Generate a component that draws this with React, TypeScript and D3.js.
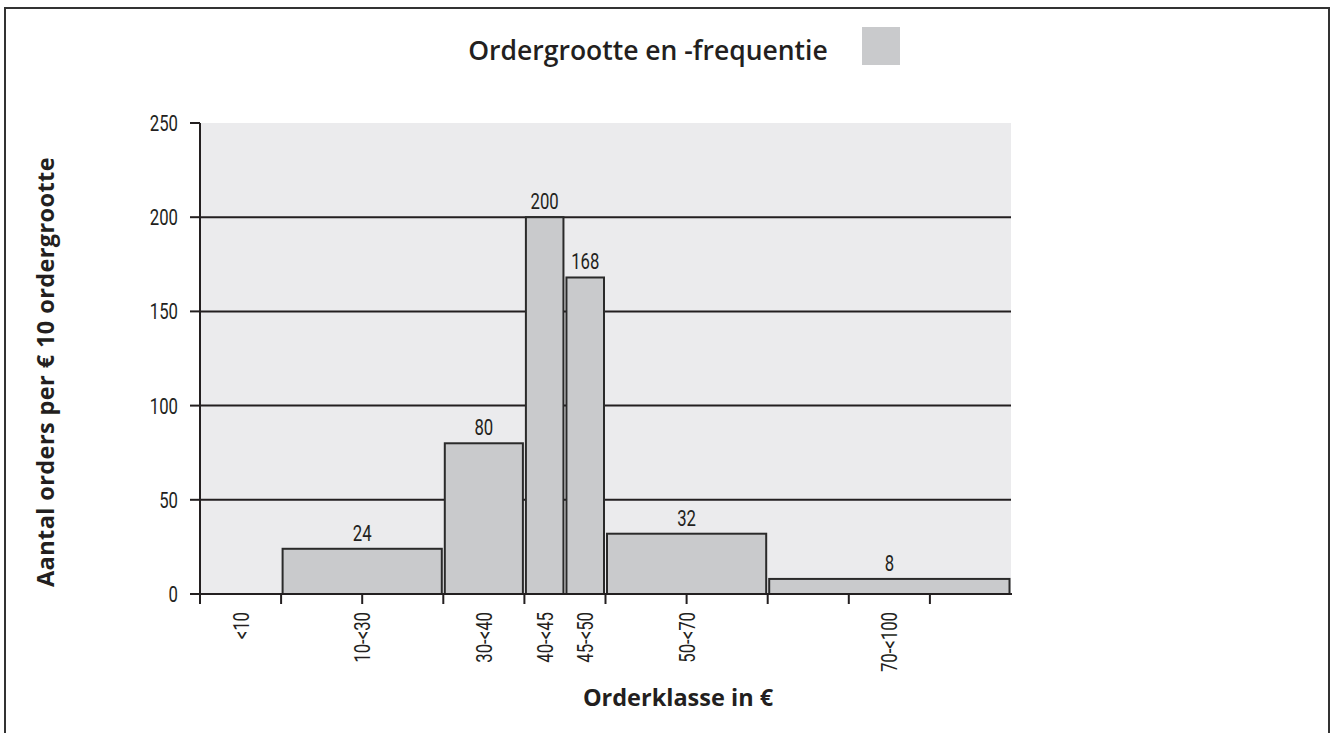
import * as d3 from "d3";

// histogram classes (euro) and order counts
const classLabels = ["<10", "10-<30", "30-<40", "40-<45", "45-<50", "50-<70", "70-<100"];
const classStart = [0, 10, 30, 40, 45, 50, 70];
const classEnd = [10, 30, 40, 45, 50, 70, 100];
const counts = [null, 24, 80, 200, 168, 32, 8];

const yTicks = [0, 50, 100, 150, 200, 250];
const xTicks = [0, 10, 20, 30, 40, 50, 60, 70, 80, 90];

const W = 1335;
const H = 733;
const left = 200;
const right = 1011;
const top = 123;
const bottom = 594;

const narrow = "Roboto, 'DejaVu Sans', sans-serif";
const bold = "'Open Sans', 'DejaVu Sans', sans-serif";
const ink = "#231f20";
const barFill = "#c9cacc";
const plotBg = "#ebebed";
const squeeze = 0.76;

// condensed look: horizontal squeeze of a normal sans
const Narrow = ({ x, y, anchor, rotate = 0, children }: any) => (
  <g transform={`translate(${x},${y}) rotate(${rotate}) scale(${squeeze},1)`}>
    <text textAnchor={anchor} fontFamily={narrow} fontSize={22} fill={ink}>
      {children}
    </text>
  </g>
);

export default function App() {
  const x = d3.scaleLinear().domain([0, 100]).range([left, right]);
  const y = d3.scaleLinear().domain([0, 250]).range([bottom, top]);

  return (
    <svg width={W} height={H} style={{ position: "absolute", left: 0, top: 0, background: "#fff" }}>
      {/* outer frame */}
      <rect x={5} y={8} width={1324} height={740} fill="none" stroke="#333" strokeWidth={2} />

      {/* title + legend swatch */}
      <text x={648} y={60} textAnchor="middle" fontFamily={bold} fontWeight={600} fontSize={26.5} fill={ink}>
        Ordergrootte en -frequentie
      </text>
      <rect x={862} y={27} width={38} height={38} fill={barFill} />

      {/* plot background */}
      <rect x={left} y={top} width={right - left} height={bottom - top} fill={plotBg} />

      {/* gridlines */}
      {yTicks.filter((t) => t > 0 && t < 250).map((t) => (
        <line key={"g" + t} x1={left} x2={right} y1={y(t)} y2={y(t)} stroke={ink} strokeWidth={2} />
      ))}

      {/* bars */}
      {counts.map((c, i) =>
        c == null ? null : (
          <g key={"b" + i}>
            <rect
              x={x(classStart[i]) + 1.5}
              y={y(c)}
              width={x(classEnd[i]) - x(classStart[i]) - 3}
              height={y(0) - y(c)}
              fill={barFill}
              stroke="#2a2a2a"
              strokeWidth={2}
            />
            <Narrow x={(x(classStart[i]) + x(classEnd[i])) / 2} y={y(c) - 8} anchor="middle">
              {c}
            </Narrow>
          </g>
        )
      )}

      {/* y axis */}
      <line x1={left} x2={left} y1={top} y2={bottom + 8} stroke={ink} strokeWidth={2} />
      {yTicks.map((t) => (
        <g key={"y" + t}>
          <line x1={left - 10} x2={left} y1={y(t)} y2={y(t)} stroke={ink} strokeWidth={2} />
          <Narrow x={left - 22} y={y(t) + 8} anchor="end">
            {t}
          </Narrow>
        </g>
      ))}

      {/* x axis */}
      <line x1={left - 10} x2={right + 1} y1={bottom} y2={bottom} stroke={ink} strokeWidth={2} />
      {xTicks.map((t) => (
        <line key={"x" + t} x1={x(t)} x2={x(t)} y1={bottom} y2={bottom + 10} stroke={ink} strokeWidth={2} />
      ))}
      {classLabels.map((l, i) => (
        <Narrow key={"l" + i} x={x((classStart[i] + classEnd[i]) / 2) + 8} y={612} rotate={-90} anchor="end">
          {l}
        </Narrow>
      ))}

      {/* axis titles */}
      <text x={678} y={706} textAnchor="middle" fontFamily={bold} fontWeight={700} fontSize={23.5} fill={ink}>
        Orderklasse in €
      </text>
      <text
        transform="translate(54,372) rotate(-90)"
        textAnchor="middle"
        fontFamily={bold}
        fontWeight={700}
        fontSize={23.5}
        letterSpacing={0.4}
        fill={ink}
      >
        Aantal orders per € 10 ordergrootte
      </text>
    </svg>
  );
}
